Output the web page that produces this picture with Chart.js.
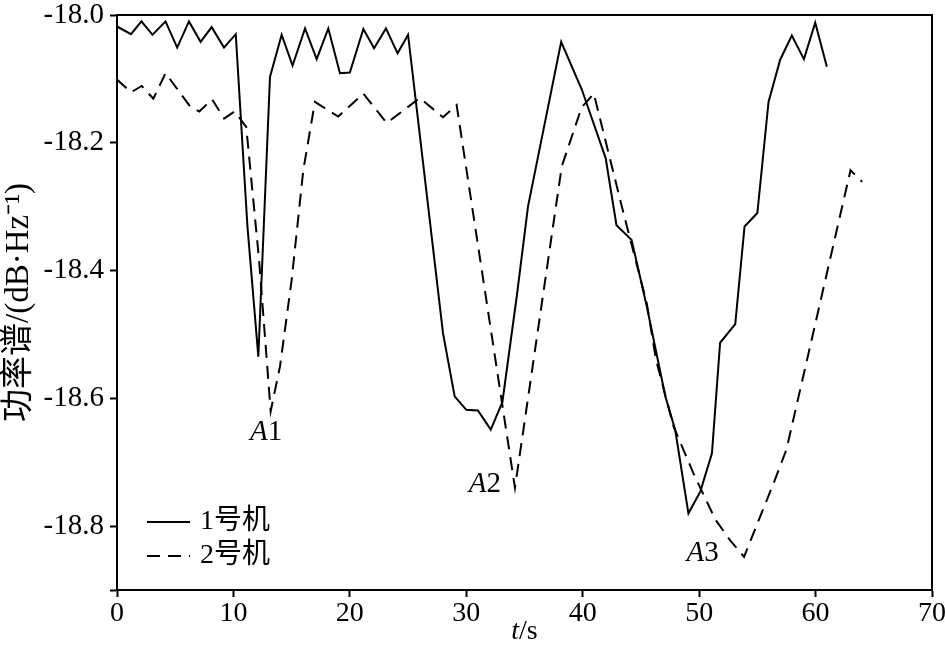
<!DOCTYPE html>
<html>
<head>
<meta charset="utf-8">
<script src="https://cdn.jsdelivr.net/npm/chart.js@4/dist/chart.umd.min.js"></script>
<style>
  body { margin: 0; background: #fff; }
  #wrap { width: 945px; height: 646px; position: relative; }
</style>
</head>
<body>
<div id="wrap"><canvas id="chart"></canvas></div>
<script>
// 1号机 (solid line)
const t1 = [0, 1.2, 2.1, 3.05, 4.17, 5.17, 6.18, 7.18, 8.13, 9.19, 10.2, 11.2, 12.14, 13.14, 14.14,
  15.08, 16.15, 17.15, 18.15, 19.15, 20.0, 21.16, 22.08, 23.1, 24.1, 25.0, 28.0, 29.0, 30.0, 31.0,
  32.1, 33.1, 34.33, 35.3, 38.15, 39.93, 41.97, 42.9, 44.2, 45.5, 47.1, 47.94, 49.08, 50.1, 51.1,
  51.8, 53.1, 53.9, 55.0, 55.96, 56.96, 57.96, 59.0, 59.97, 60.97];
const power1 = [-18.018, -18.030, -18.010, -18.031, -18.010, -18.051, -18.010, -18.042, -18.019, -18.051,
  -18.030, -18.33, -18.535, -18.097, -18.031, -18.079, -18.021, -18.069, -18.021, -18.091,
  -18.090, -18.022, -18.052, -18.021, -18.060, -18.031, -18.498, -18.597, -18.618, -18.619,
  -18.649, -18.606, -18.441, -18.30, -18.042, -18.117, -18.224, -18.329, -18.352, -18.456,
  -18.597, -18.649, -18.780, -18.746, -18.686, -18.513, -18.484, -18.331, -18.310, -18.136,
  -18.070, -18.032, -18.069, -18.012, -18.081];

// 2号机 (dashed line)
const t2 = [0, 1.2, 2.12, 3.12, 4.17, 6.27, 7.07, 8.17, 9.2, 10.1, 11.1, 12.2, 13.2, 14.0, 15.0,
  16.0, 17.0, 19.0, 21.15, 23.17, 26.0, 28.0, 29.17, 34.18, 38.2, 39.9, 40.95, 43.5, 45.5, 46.3,
  47.8, 49.5, 51.4, 52.65, 53.86, 56.5, 57.5, 63.0, 64.0];
const power2 = [-18.101, -18.121, -18.111, -18.131, -18.091, -18.143, -18.151, -18.132, -18.162, -18.151,
  -18.175, -18.383, -18.620, -18.55, -18.415, -18.243, -18.136, -18.159, -18.123, -18.169,
  -18.130, -18.160, -18.141, -18.740, -18.237, -18.145, -18.123, -18.31, -18.451, -18.54,
  -18.644, -18.717, -18.79, -18.822, -18.848, -18.728, -18.68, -18.243, -18.261];

const seriesNames = ["1号机", "2号机"];
const xTicks = [0, 10, 20, 30, 40, 50, 60, 70];
const yTicks = [-18.9, -18.8, -18.6, -18.4, -18.2, -18.0];

// 标注 A1/A2/A3
const markNames = ["1", "2", "3"];
const markT = [12.8, 31.6, 50.3];
const markP = [-18.653, -18.734, -18.842];

const serif = "'Liberation Serif', 'Noto Sans CJK SC', serif";
Chart.defaults.font.family = serif;
Chart.defaults.color = "#000";

const toPoints = (ts, vs) => ts.map((t, i) => ({ x: t, y: vs[i] }));

const decorPlugin = {
  id: "decor",
  afterDraw(chart) {
    const { ctx, chartArea: a, scales } = chart;
    ctx.save();
    // 边框
    ctx.strokeStyle = "#000";
    ctx.lineWidth = 2;
    ctx.strokeRect(a.left, a.top, a.right - a.left, a.bottom - a.top);

    // A1 A2 A3
    ctx.fillStyle = "#000";
    ctx.textBaseline = "middle";
    markNames.forEach((n, i) => {
      const x = scales.x.getPixelForValue(markT[i]);
      const y = scales.y.getPixelForValue(markP[i]);
      ctx.font = "italic 29px " + serif;
      const wA = ctx.measureText("A").width;
      ctx.font = "29px " + serif;
      const wN = ctx.measureText(n).width;
      const x0 = x - (wA + wN) / 2;
      ctx.font = "italic 29px " + serif;
      ctx.textAlign = "left";
      ctx.fillText("A", x0, y);
      ctx.font = "29px " + serif;
      ctx.fillText(n, x0 + wA, y);
    });

    // x轴标题 t/s
    ctx.font = "italic 28px " + serif;
    const wt = ctx.measureText("t").width;
    ctx.font = "28px " + serif;
    const ws = ctx.measureText("/s").width;
    const cx = (a.left + a.right) / 2;
    const xs = cx - (wt + ws) / 2;
    ctx.font = "italic 28px " + serif;
    ctx.fillText("t", xs, 632);
    ctx.font = "28px " + serif;
    ctx.fillText("/s", xs + wt, 632);

    // 图例
    chart.data.datasets.forEach((ds, i) => {
      const y = a.bottom - 68 + i * 34;
      ctx.beginPath();
      ctx.setLineDash(ds.borderDash || []);
      ctx.lineWidth = 2;
      ctx.moveTo(a.left + 30, y);
      ctx.lineTo(a.left + 73, y);
      ctx.stroke();
      ctx.setLineDash([]);
      ctx.font = "28px " + serif;
      ctx.fillText(ds.label, a.left + 83, y);
    });
    ctx.restore();
  }
};

new Chart(document.getElementById("chart"), {
  type: "line",
  data: {
    datasets: [
      {
        label: seriesNames[0],
        data: toPoints(t1, power1),
        borderColor: "#000",
        borderWidth: 2,
        pointRadius: 0,
        tension: 0,
        fill: false
      },
      {
        label: seriesNames[1],
        data: toPoints(t2, power2),
        borderColor: "#000",
        borderWidth: 2,
        borderDash: [13, 8],
        pointRadius: 0,
        tension: 0,
        fill: false
      }
    ]
  },
  options: {
    responsive: true,
    maintainAspectRatio: false,
    animation: false,
    layout: { padding: { top: 15, right: 13, left: 0, bottom: 0 } },
    plugins: {
      legend: { display: false },
      tooltip: { enabled: false }
    },
    scales: {
      x: {
        type: "linear",
        min: 0,
        max: 70,
        afterBuildTicks: (s) => { s.ticks = xTicks.map(v => ({ value: v })); },
        afterFit: (s) => { s.height = 56; s.paddingLeft = 0; s.paddingRight = 0; },
        ticks: { font: { size: 28 }, padding: 0, maxRotation: 0 },
        grid: { drawOnChartArea: false, tickLength: 7, tickColor: "#000", tickWidth: 2 },
        border: { color: "#000", width: 2 }
      },
      y: {
        type: "linear",
        min: -18.9,
        max: -18.0,
        afterBuildTicks: (s) => { s.ticks = yTicks.map(v => ({ value: v })); },
        afterFit: (s) => { s.width = 117; s.paddingTop = 0; s.paddingBottom = 0; },
        ticks: {
          font: { size: 29 },
          padding: 6,
          callback: (v) => (Math.abs(v + 18.9) < 1e-6 ? "" : v.toFixed(1))
        },
        title: {
          display: true,
          text: "功率谱/(dB·Hz⁻¹)",
          font: { size: 33 },
          padding: { top: 0, bottom: 0 }
        },
        grid: { drawOnChartArea: false, tickLength: 7, tickColor: "#000", tickWidth: 2 },
        border: { color: "#000", width: 2 }
      }
    }
  },
  plugins: [decorPlugin]
});
</script>
</body>
</html>
